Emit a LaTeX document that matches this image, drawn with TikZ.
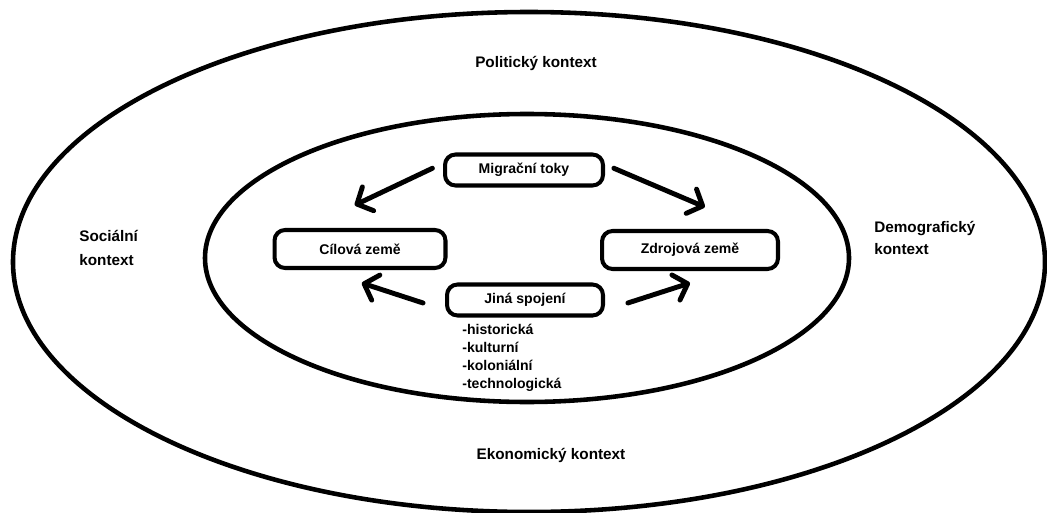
\documentclass[tikz,border=0pt]{standalone}
\usepackage{fontspec}
\setmainfont{Liberation Sans}
\usetikzlibrary{arrows.meta}

\begin{document}
\begin{tikzpicture}[x=0.02cm, y=-0.02cm,
		ring/.style={line width=2.6pt},
		box/.style={draw, line width=2.3pt, rounded corners=6pt, inner sep=0pt, font=\fontsize{8}{10}\selectfont\bfseries},
		ctx/.style={align=left, inner sep=0pt, font=\fontsize{8.7}{13.6}\selectfont\bfseries},
		flow/.style={line width=2.8pt, line cap=round, -{Straight Barb[round, length=7pt, width=15pt]}}]
		\useasboundingbox (0,0) rectangle (1047,513);
		\draw[ring] (529,262) ellipse [x radius=516, y radius=250];
		\draw[ring] (527,258) ellipse [x radius=322, y radius=144];
		
		\node[ctx] (pol) at (536,63) {Politický kontext};
		\node[ctx] (eko) at (551,455) {Ekonomický kontext};
		\node[ctx, anchor=west] (soc) at (79,248) {Sociální\\kontext};
		\node[ctx, anchor=west, font=\fontsize{8.7}{12.5}\selectfont\bfseries] (dem) at (874,238) {Demografický\\kontext};
		
		\node[box, minimum width=3.16cm, minimum height=0.62cm] (mig) at (524,170) {Migrační toky};
		\node[box, minimum width=3.42cm, minimum height=0.76cm] (cil) at (360,249) {Cílová země};
		\node[box, minimum width=3.52cm, minimum height=0.76cm] (zdr) at (690,250) {Zdrojová země};
		\node[box, minimum width=3.12cm, minimum height=0.62cm] (jin) at (525,300) {Jiná spojení};
		\node[ctx, anchor=north west, font=\fontsize{8}{10.2}\selectfont\bfseries] (druhy) at (462,324) {-historická\\-kulturní\\-koloniální\\-technologická};
		
		\draw[flow] ([xshift=-6pt,yshift=1pt]mig.west) -- ([xshift=-3pt,yshift=13pt]cil.north);
		\draw[flow] ([xshift=5pt,yshift=1pt]mig.east) -- ([xshift=8.5pt,yshift=12.5pt]zdr.north);
		\draw[flow] ([xshift=-12.5pt,yshift=-1.7pt]jin.west) -- ([xshift=1pt,yshift=-7.4pt]cil.south);
		\draw[flow] ([xshift=13pt,yshift=-1.7pt]jin.east) -- ([yshift=-6.8pt]zdr.south);
	\end{tikzpicture}
\end{document}
